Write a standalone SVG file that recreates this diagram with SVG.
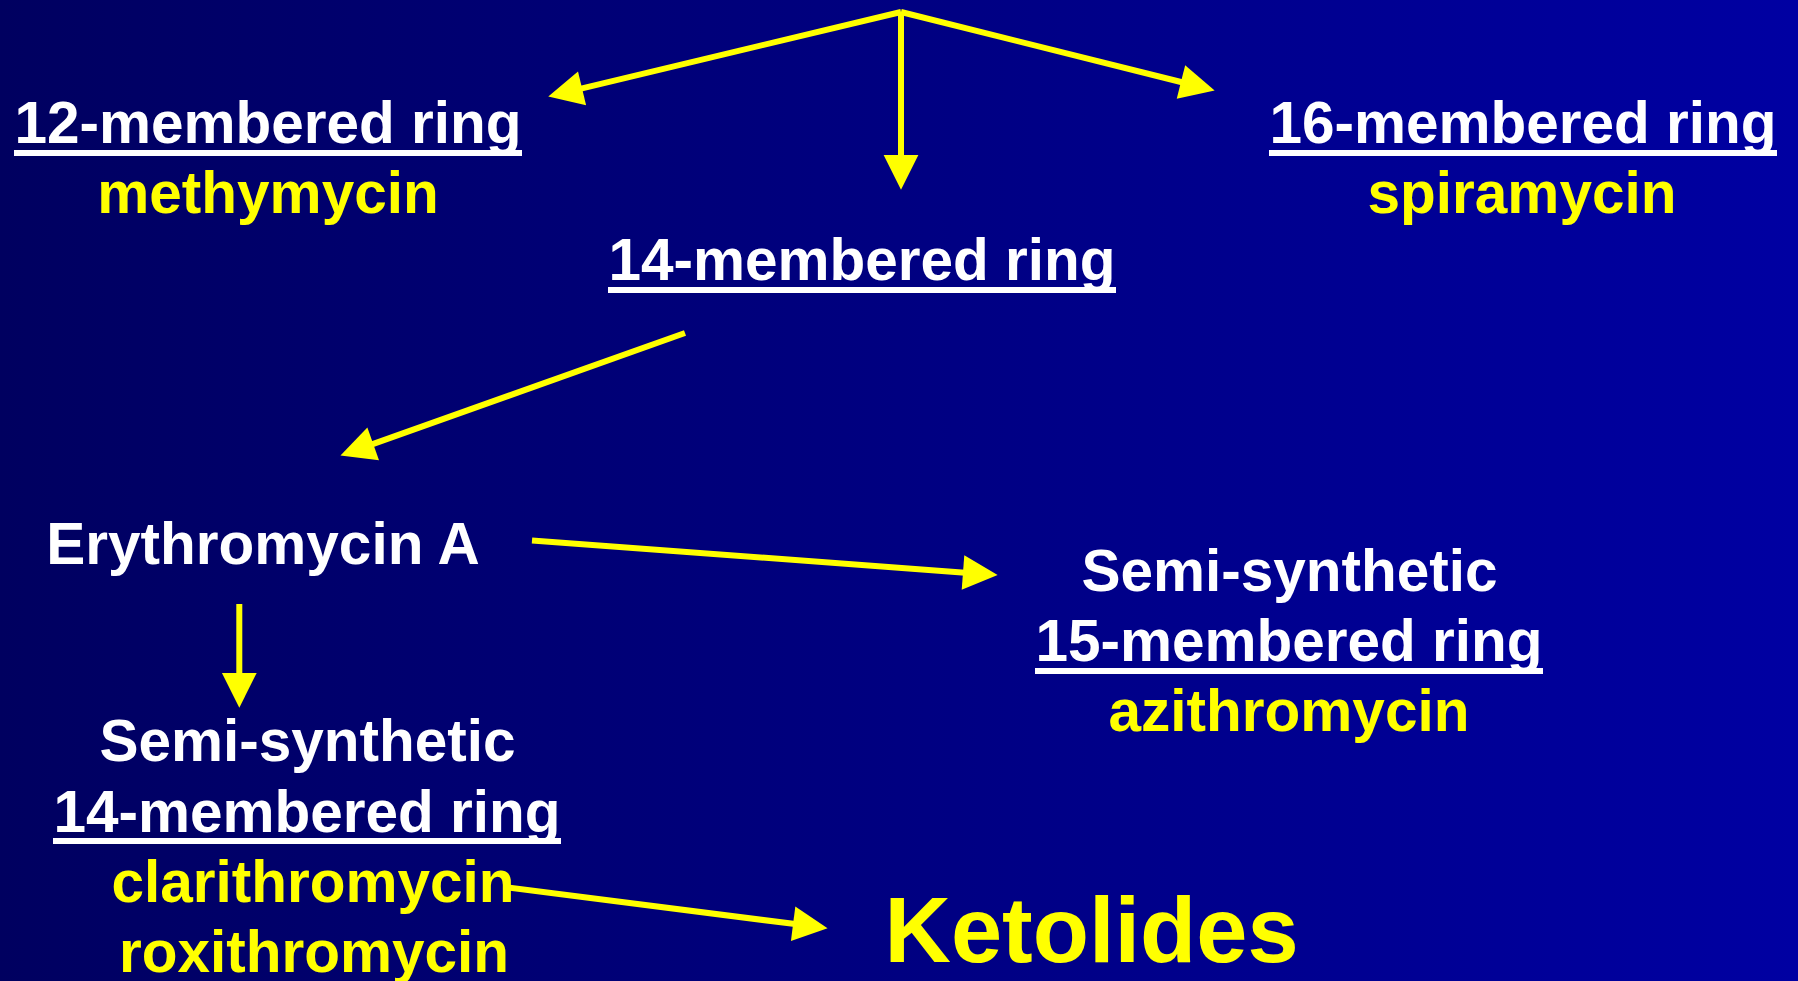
<svg xmlns="http://www.w3.org/2000/svg" width="1798" height="981" viewBox="0 0 1798 981">
<style>
.t{font-family:"Liberation Sans",Arial,sans-serif;font-weight:bold;font-size:58.5px;text-anchor:middle}
.w{fill:#ffffff}
.y{fill:#ffff00}
.ul{fill:#ffffff}
.c{stroke:#ffff00;stroke-width:6;fill:none;marker-end:url(#ah)}
</style>
<defs>
<linearGradient id="bg" x1="0" y1="0" x2="1" y2="0">
<stop offset="0" stop-color="#000060"/>
<stop offset="1" stop-color="#0000A2"/>
</linearGradient>
<marker id="ah" markerUnits="userSpaceOnUse" markerWidth="40" markerHeight="40" refX="0" refY="0" viewBox="-3 -18 38 36" orient="auto" overflow="visible">
<path d="M-2,-16.5 L31,0 L-2,16.5 Z" fill="#ffff00"/>
</marker>
</defs>
<rect x="0" y="0" width="1798" height="981" fill="url(#bg)"/>

<g id="connectors">
<path class="c" d="M901,12 L580,88.8"/>
<path class="c" d="M901,12 L901,157"/>
<path class="c" d="M901,12 L1183,82.5"/>
<path class="c" d="M685,333 L371.2,444.6"/>
<path class="c" d="M532,540.5 L965.1,572.7"/>
<path class="c" d="M239.3,604 L239.3,675"/>
<path class="c" d="M504,887 L795.2,924.1"/>
</g>

<g id="ring12">
<text class="t w" x="268" y="143">12-membered ring</text>
<rect class="ul" x="14" y="150" width="508" height="6"/>
<text class="t y" x="268" y="213">methymycin</text>
</g>

<g id="ring16">
<text class="t w" x="1523" y="143">16-membered ring</text>
<rect class="ul" x="1269" y="150" width="508" height="6"/>
<text class="t y" x="1522" y="213">spiramycin</text>
</g>

<g id="ring14">
<text class="t w" x="862" y="280">14-membered ring</text>
<rect class="ul" x="608" y="287" width="508" height="6"/>
</g>

<g id="erythromycin">
<text class="t w" x="263" y="564">Erythromycin A</text>
</g>

<g id="semi15">
<text class="t w" x="1289.5" y="591">Semi-synthetic</text>
<text class="t w" x="1289" y="661">15-membered ring</text>
<rect class="ul" x="1035" y="668" width="508" height="6"/>
<text class="t y" x="1289" y="731">azithromycin</text>
</g>

<g id="semi14">
<text class="t w" x="307.5" y="761">Semi-synthetic</text>
<text class="t w" x="307" y="831.5">14-membered ring</text>
<rect class="ul" x="53" y="838" width="508" height="6"/>
<text class="t y" x="313" y="901.5">clarithromycin</text>
<text class="t y" x="314" y="971.5">roxithromycin</text>
</g>

<g id="ketolides">
<text class="t y" x="1091.5" y="961.5" style="font-size:92px">Ketolides</text>
</g>
</svg>
